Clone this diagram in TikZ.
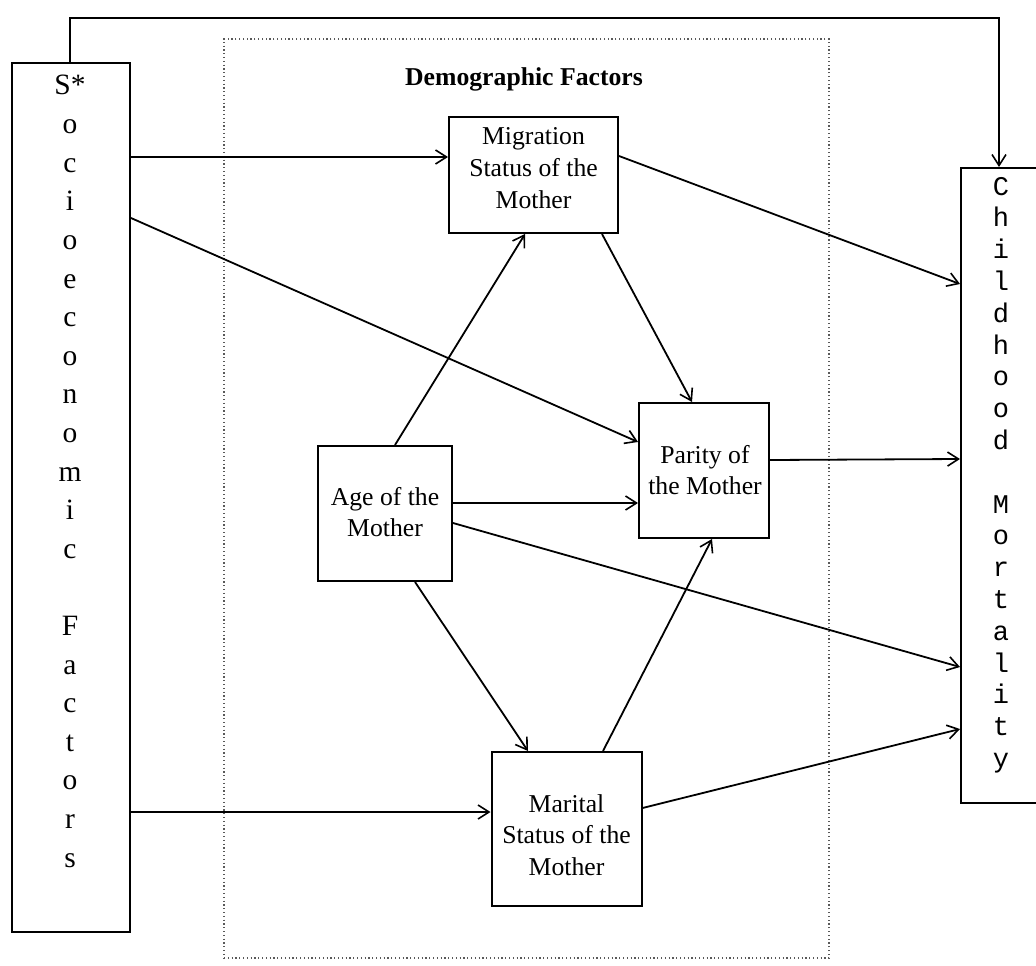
\documentclass[tikz,border=0pt]{standalone}
\usepackage{fontspec}
\setmainfont{Liberation Serif}
\newfontfamily\monofont{Liberation Mono}
\usetikzlibrary{arrows.meta}
\tikzset{
  boxnode/.style={draw, line width=2pt, inner sep=0pt, fill=white},
  txtnode/.style={inner sep=0pt, align=center, font=\fontsize{25.7}{31.7}\selectfont},
  arr/.style={line width=1.8pt, -{Straight Barb[length=11pt,width=14pt,line width=1.6pt]}},
  frame/.style={draw=black!65, line width=1.3pt, dash pattern=on 1.2pt off 2.6pt, inner sep=0pt},
  letterL/.style={inner sep=0pt, anchor=base, font=\fontsize{29.5}{38.6}\selectfont},
  letterR/.style={inner sep=0pt, anchor=base, font=\monofont\fontsize{27}{31.9}\selectfont}
}
\begin{document}
\begin{tikzpicture}[x=1pt,y=-1pt]
\useasboundingbox[fill=white] (0,0) rectangle (1036,966);
% dotted frame
\node[frame, minimum width=605pt, minimum height=919pt] (demo) at (526.5,498.5) {};
\node[inner sep=0pt, anchor=base, font=\bfseries\fontsize{25.7}{31}\selectfont] (demotitle) at (524,85) {Demographic Factors};
% side boxes
\node[boxnode, minimum width=118pt, minimum height=869pt] (soc) at (71,497.5) {};
\node[boxnode, minimum width=82pt, minimum height=635pt] (chm) at (1002,485.5) {};
% inner boxes
\node[boxnode, minimum width=169pt, minimum height=116pt] (mig) at (533.5,175) {};
\node[boxnode, minimum width=134pt, minimum height=135pt] (age) at (385,513.5) {};
\node[boxnode, minimum width=130pt, minimum height=135pt] (par) at (704,470.5) {};
\node[boxnode, minimum width=150pt, minimum height=154pt] (mar) at (566.5,829) {};
% texts
\node[txtnode] (migT) at (533.5,168) {Migration\\Status of the\\Mother};
\node[txtnode] (ageT) at (385,512) {Age of the\\Mother};
\node[txtnode] (parT) at (705,470) {Parity of\\the Mother};
\node[txtnode] (marT) at (566.5,835) {Marital\\Status of the\\Mother};
% vertical letters
\foreach \c/\i in {S*/0,o/1,c/2,i/3,o/4,e/5,c/6,o/7,n/8,o/9,m/10,i/11,c/12,F/14,a/15,c/16,t/17,o/18,r/19,s/20}
  \node[letterL] (socL\i) at (70,95+38.6*\i) {\c};
\foreach \c/\i in {C/0,h/1,i/2,l/3,d/4,h/5,o/6,o/7,d/8,M/10,o/11,r/12,t/13,a/14,l/15,i/16,t/17,y/18}
  \node[letterR] (chmL\i) at (1001,195+31.8*\i) {\c};
% connectors
\draw[arr] (soc.north -| 70,0) -- ++(0,-44) -| (chm.north -| 999,0);
\draw[arr] (soc.east |- 0,157) -- (mig.west |- 0,157);
\draw[arr] (soc.east |- 0,218) -- (par.west |- 0,442);
\draw[arr] (soc.east |- 0,812) -- (mar.west |- 0,812);
\draw[arr] (mig.east |- 0,156) -- (chm.west |- 0,284);
\draw[arr] (mig.south -| 602,0) -- (par.north -| 692,0);
\draw[arr] (age.north -| 395,0) -- (mig.south -| 525,0);
\draw[arr] (age.east |- 0,503) -- (par.west |- 0,503);
\draw[arr] (age.east |- 0,523) -- (chm.west |- 0,667);
\draw[arr] (age.south -| 415,0) -- (mar.north -| 528,0);
\draw[arr] (mar.north -| 603,0) -- (par.south -| 712,0);
\draw[arr] (par.east |- 0,460) -- (chm.west |- 0,459);
\draw[arr] (mar.east |- 0,808) -- (chm.west |- 0,729);
\end{tikzpicture}
\end{document}
